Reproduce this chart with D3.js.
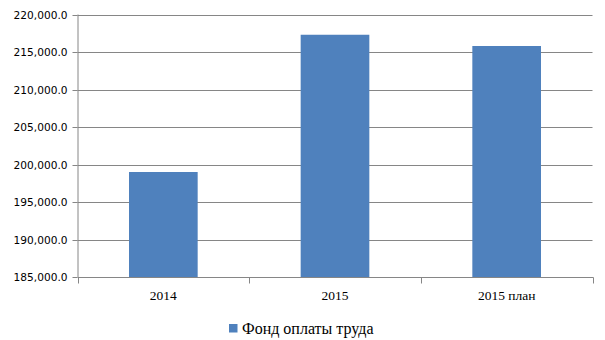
<!DOCTYPE html>
<html><head><meta charset="utf-8">
<script src="https://cdn.jsdelivr.net/npm/d3@7"></script>
<style>body{margin:0;background:#fff}svg{display:block}
.serif{font-family:"Liberation Serif","Times New Roman",serif}
.sans{font-family:"DejaVu Sans",Verdana,sans-serif}
</style>
</head><body>
<svg id="c" width="605" height="340"></svg>
<script>
const categories = ["2014", "2015", "2015 план"];
const values = [199000, 217300, 215800];
const yTicks = [185000, 190000, 195000, 200000, 205000, 210000, 215000, 220000];
const seriesName = "Фонд оплаты труда";

(function () {
const svg = d3.select("#c");
const pL = 77.5, pR = 592.5, pT = 14.5, pB = 277;
const x = d3.scaleBand().domain(categories).range([pL, pR]).padding(0);
const y = d3.scaleLinear().domain([185000, 220000]).range([pB, pT]);
const fmt = d3.format(",.1f");
const gray = "#868686";

// gridlines
svg.append("g").selectAll("line").data(yTicks.slice(1)).join("line")
  .attr("x1", pL).attr("x2", pR)
  .attr("y1", d => Math.round(y(d)) + 0.5).attr("y2", d => Math.round(y(d)) + 0.5)
  .attr("stroke", gray).attr("stroke-width", 1);

// bars
const bw = x.step() * 0.4;
svg.append("g").selectAll("rect").data(values).join("rect")
  .attr("x", (d, i) => x(categories[i]) + (x.step() - bw) / 2)
  .attr("width", bw)
  .attr("y", d => y(d))
  .attr("height", d => pB - y(d))
  .attr("fill", "#4F81BD");

// y axis
const ya = svg.append("g").attr("transform", `translate(${pL},0)`)
  .call(d3.axisLeft(y).tickValues(yTicks).tickFormat(fmt).tickSize(5).tickPadding(5));
ya.attr("font-family", null).attr("font-size", null);
ya.select(".domain").attr("stroke", gray).attr("d", `M0.5,${pT}V${pB}`);
ya.selectAll(".tick line").attr("stroke", gray);
ya.selectAll(".tick").attr("transform", d => `translate(0,${Math.round(y(d)) + 0.5})`);
ya.selectAll("text").attr("fill", "#000").attr("class", "sans").style("font-size", "10.6px");

// x axis
const xa = svg.append("g").attr("transform", `translate(0,${pB + 0.5})`);
xa.append("line").attr("x1", pL).attr("x2", pR + 1).attr("stroke", gray);
const edges = categories.map(c => x(c)).concat([x(categories[categories.length - 1]) + x.step()]);
xa.selectAll("line.tk").data(edges).join("line").attr("class", "tk")
  .attr("x1", d => Math.round(d) + 0.5).attr("x2", d => Math.round(d) + 0.5)
  .attr("y1", 0).attr("y2", 6).attr("stroke", gray);
xa.selectAll("text").data(categories).join("text")
  .attr("class", "serif")
  .attr("x", d => x(d) + x.step() / 2).attr("y", 22)
  .attr("text-anchor", "middle")
  .style("font-size", "13.5px")
  .text(d => d);

// legend
const lg = svg.append("g");
lg.append("rect").attr("x", 229).attr("y", 324).attr("width", 8.5).attr("height", 8.5).attr("fill", "#4F81BD");
lg.append("text").attr("class", "serif").attr("x", 242).attr("y", 333.5)
  .style("font-size", "16px")
  .text(seriesName);
})();
</script>
</body></html>
